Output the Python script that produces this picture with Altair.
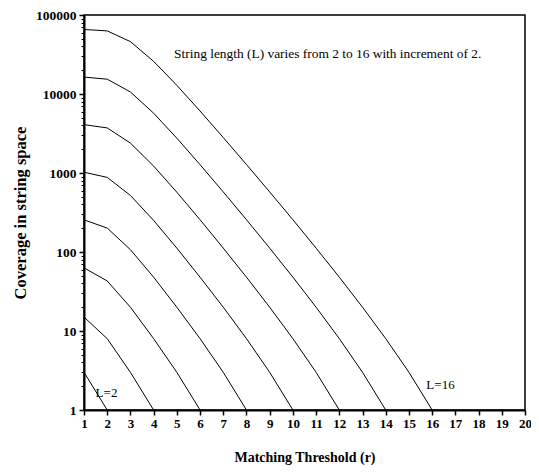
import altair as alt
import pandas as pd

# Coverage values, one list per string length L (r = 1 .. L)
cov_L2 = [3, 1]
cov_L4 = [15, 8, 3, 1]
cov_L6 = [63, 43, 20, 8, 3, 1]
cov_L8 = [255, 201, 107, 48, 20, 8, 3, 1]
cov_L10 = [1023, 880, 520, 251, 112, 48, 20, 8, 3, 1]
cov_L12 = [4095, 3719, 2391, 1224, 571, 256, 112, 48, 20, 8, 3, 1]
cov_L14 = [16383, 15397, 10616, 5713, 2760, 1275, 576, 256, 112, 48, 20, 8, 3, 1]
cov_L16 = [65535, 62952, 46023, 25888, 12880, 6088, 2811, 1280, 576, 256, 112, 48, 20, 8, 3, 1]

series = {2: cov_L2, 4: cov_L4, 6: cov_L6, 8: cov_L8,
          10: cov_L10, 12: cov_L12, 14: cov_L14, 16: cov_L16}

x_ticks = list(range(1, 21))
y_major = [1, 10, 100, 1000, 10000, 100000]
y_minor = [m * d for d in [1, 10, 100, 1000, 10000] for m in range(2, 10)]

label_text = ["L=2", "L=16", "String length (L) varies from 2 to 16 with increment of 2."]
label_r = [1.5, 15.75, 11.5]
label_cov = [1.62, 2.1, 32000]

rows = []
for L, vals in series.items():
    for i, v in enumerate(vals):
        rows.append({"L": L, "r": i + 1, "coverage": v})
df = pd.DataFrame(rows)

lab_df = pd.DataFrame({"text": label_text, "r": label_r, "coverage": label_cov})
minor_df = pd.DataFrame({"coverage": y_minor})

FONT = "Liberation Serif"
xscale = alt.Scale(domain=[1, 20], nice=False, zero=False)
yscale = alt.Scale(type="log", domain=[1, 100000], nice=False)

x_axis = alt.Axis(values=x_ticks, format="d", title="Matching Threshold (r)",
                  grid=False, tickSize=5, tickWidth=1.5, labelPadding=2,
                  labelOverlap=False, labelFlush=False, labelBound=False,
                  labelFontSize=13,
                  titlePadding=20, titleFontSize=14, domainWidth=2,
                  domainColor="black", tickColor="black")
x_enc = alt.X("r:Q", scale=xscale, axis=x_axis)

lines = alt.Chart(df).mark_line(color="black", strokeWidth=1).encode(
    x=x_enc,
    y=alt.Y("coverage:Q", scale=yscale,
            axis=alt.Axis(values=y_major, format="d", title="Coverage in string space",
                          orient="left", grid=False, tickSize=5, tickWidth=1.5,
                          labelPadding=3, titlePadding=7, titleFontSize=16.5,
                          labelFontSize=13.5,
                          labelOverlap=False, labelFlush=False, domainWidth=2,
                          domainColor="black", tickColor="black")),
    detail="L:N",
)

minor = alt.Chart(minor_df).mark_point(opacity=0).encode(
    x=alt.value(0),
    y=alt.Y("coverage:Q", scale=yscale,
            axis=alt.Axis(values=y_minor, labels=False, title=None, orient="left",
                          grid=False, tickSize=3, tickWidth=1, domain=False,
                          tickColor="black")),
)

small_labels = alt.Chart(lab_df.iloc[:2]).mark_text(
    align="left", baseline="middle", font=FONT, fontSize=13, color="black"
).encode(
    x=x_enc,
    y=alt.Y("coverage:Q", scale=yscale, axis=None),
    text="text:N",
)

note = alt.Chart(lab_df.iloc[2:]).mark_text(
    align="center", baseline="middle", font=FONT, fontSize=13.4, color="black"
).encode(
    x=x_enc,
    y=alt.Y("coverage:Q", scale=yscale, axis=None),
    text="text:N",
)

chart = alt.layer(lines, minor, small_labels, note).resolve_scale(
    y="shared"
).resolve_axis(
    y="independent"
).properties(
    width=441, height=395,
    padding={"left": 76, "top": 7, "right": 6, "bottom": 56},
    autosize=alt.AutoSizeParams(type="none"),
).configure_view(
    stroke="black", strokeWidth=1.5
).configure_text(
    font=FONT
).configure_axisX(
    labelOverlap=False
).configure_axis(
    labelFont=FONT, titleFont=FONT,
    labelFontWeight="bold", titleFontWeight="bold", labelColor="black",
    titleColor="black",
)

chart.save("out.html", embed_options={"renderer": "svg", "actions": False})
